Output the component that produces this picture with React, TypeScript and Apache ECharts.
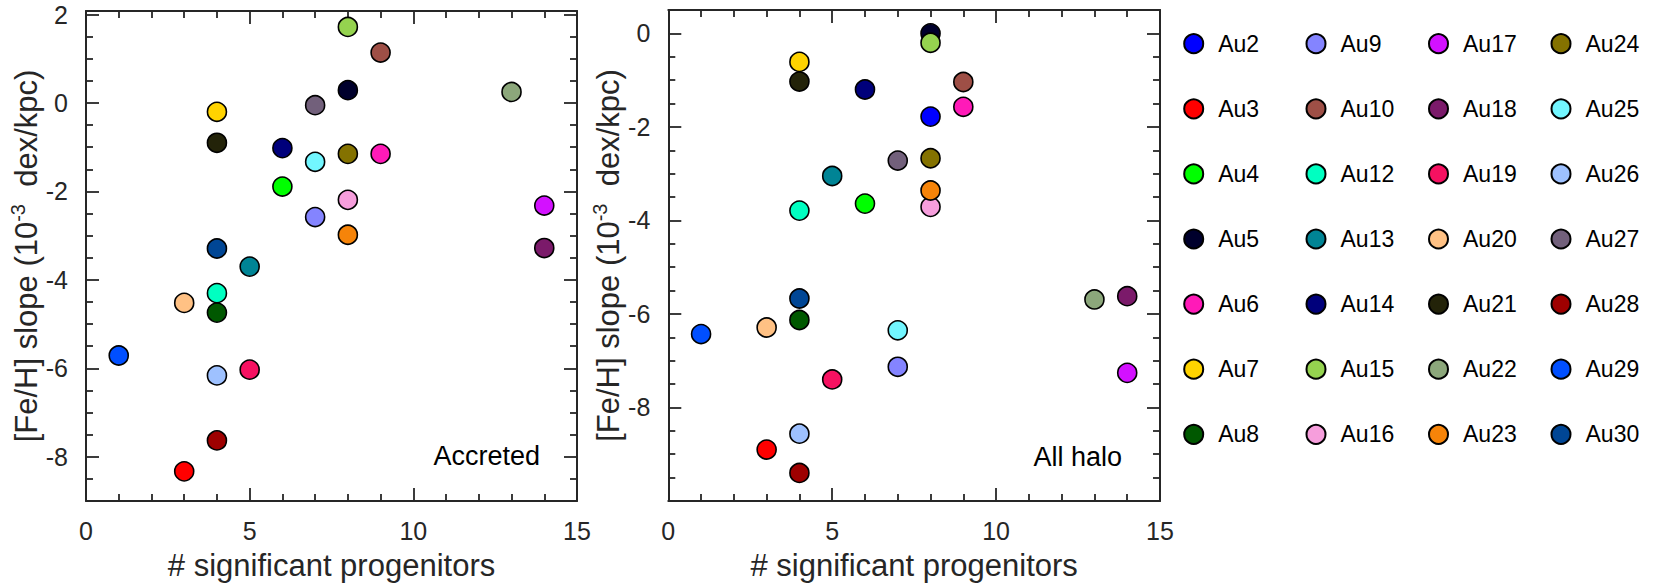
import React, { useEffect, useRef } from "react";
import * as echarts from "echarts";

// ---------- data ----------
const galaxies = [
  "Au2", "Au3", "Au4", "Au5", "Au6", "Au7", "Au8",
  "Au9", "Au10", "Au12", "Au13", "Au14", "Au15", "Au16",
  "Au17", "Au18", "Au19", "Au20", "Au21", "Au22", "Au23",
  "Au24", "Au25", "Au26", "Au27", "Au28", "Au29", "Au30",
];

const galaxyColors = [
  "#0000FF", "#FF0000", "#00FF00", "#00002C", "#FF1AB8", "#FFD300", "#005800",
  "#8484FF", "#9E4F46", "#00FFC1", "#008495", "#00007B", "#95D34F", "#F69EDC",
  "#D311FF", "#7B1A6A", "#F61161", "#FFC184", "#232309", "#8CA77B", "#F68409",
  "#847200", "#72F6FF", "#9EC1FF", "#72607B", "#9E0000", "#004FFF", "#004695",
];

// number of significant progenitors
const progenitors = [
  8, 3, 6, 8, 9, 4, 4,
  7, 9, 4, 5, 6, 8, 8,
  14, 14, 5, 3, 4, 13, 8,
  8, 7, 4, 7, 4, 1, 4,
];

// [Fe/H] slope (1e-3 dex/kpc), accreted stars
const slopeAccreted: (number | null)[] = [
  null, -8.33, -1.89, 0.29, -1.15, -0.2, -4.74,
  -2.58, 1.14, -4.3, -3.7, -1.02, 1.72, -2.19,
  -2.32, -3.28, -6.03, -4.52, -0.9, 0.25, -2.98,
  -1.15, -1.33, -6.16, -0.05, -7.63, -5.71, -3.29,
];

// [Fe/H] slope (1e-3 dex/kpc), all halo stars
const slopeAllHalo = [
  -1.78, -8.9, -3.64, 0.0, -1.57, -0.61, -6.13,
  -7.13, -1.04, -3.79, -3.05, -1.2, -0.2, -3.71,
  -7.26, -5.62, -7.4, -6.29, -1.03, -5.69, -3.36,
  -2.67, -6.35, -8.56, -2.72, -9.4, -6.43, -5.67,
];

const xTicks = [0, 5, 10, 15];
const accretedYTicks = [-8, -6, -4, -2, 0, 2];
const allHaloYTicks = [-8, -6, -4, -2, 0];
const panelLabels = ["Accreted", "All halo"];

// ---------- style ----------
const FONT = "'Liberation Sans', Arial, Helvetica, sans-serif";
const AXIS_COLOR = "#262626";

function minorTicks(min: number, max: number, step: number, majors: number[]) {
  const out: number[] = [];
  for (let k = Math.ceil(min / step); k * step <= max + 1e-9; k++) {
    const v = Math.round(k * step * 1000) / 1000;
    if (v <= min + 1e-9 || v >= max - 1e-9) continue;
    if (majors.some((m) => Math.abs(m - v) < 1e-9)) continue;
    out.push(v);
  }
  return out;
}

const lineStyle = { color: AXIS_COLOR, width: 2 };
const tickLine = { color: AXIS_COLOR, width: 1.8 };

function buildXAxes(gridIndex: number) {
  const base = { type: "value", gridIndex, min: 0, max: 15, splitLine: { show: false } };
  const minor = minorTicks(0, 15, 1, xTicks);
  const mk = (position: string, major: boolean, main: boolean) => ({
    ...base,
    position,
    axisLine: { show: major, onZero: false, lineStyle },
    axisTick: {
      show: true,
      inside: true,
      length: major ? 13 : 7,
      customValues: major ? xTicks : minor,
      lineStyle: tickLine,
    },
    axisLabel: main
      ? {
          show: true,
          customValues: xTicks,
          fontSize: 25,
          fontFamily: FONT,
          color: AXIS_COLOR,
          margin: 17,
        }
      : { show: false },
    ...(main
      ? {
          name: "# significant progenitors",
          nameLocation: "middle",
          nameGap: 49,
          nameTextStyle: { fontSize: 31, lineHeight: 31, fontFamily: FONT, color: AXIS_COLOR },
        }
      : {}),
  });
  return [mk("bottom", true, true), mk("bottom", false, false), mk("top", true, false), mk("top", false, false)];
}

function buildYAxes(gridIndex: number, min: number, max: number, majors: number[]) {
  const base = { type: "value", gridIndex, min, max, splitLine: { show: false } };
  const minor = minorTicks(min, max, 0.5, majors);
  const mk = (position: string, major: boolean, main: boolean) => ({
    ...base,
    position,
    axisLine: { show: major, onZero: false, lineStyle },
    axisTick: {
      show: true,
      inside: true,
      length: major ? 13 : 7,
      customValues: major ? majors : minor,
      lineStyle: tickLine,
    },
    axisLabel: main
      ? {
          show: true,
          customValues: majors,
          fontSize: 25,
          fontFamily: FONT,
          color: AXIS_COLOR,
          margin: 18,
          padding: [6, 0, 0, 0],
        }
      : { show: false },
    ...(main
      ? {
          name: "{m|[Fe/H] slope (10}{s|-3}{m|  dex/kpc)}",
          nameLocation: "middle",
          nameGap: 42,
          nameTextStyle: {
            fontFamily: FONT,
            color: AXIS_COLOR,
            rich: {
              m: { fontSize: 31, lineHeight: 36, fontFamily: FONT, color: AXIS_COLOR, verticalAlign: "middle" },
              s: { fontSize: 20, lineHeight: 20, fontFamily: FONT, color: AXIS_COLOR, verticalAlign: "top" },
            },
          },
        }
      : {}),
  });
  return [mk("left", true, true), mk("left", false, false), mk("right", true, false), mk("right", false, false)];
}

const legendLefts = [1183.2, 1305.5, 1428, 1550.5];

export default function App() {
  const ref = useRef<HTMLDivElement>(null);

  useEffect(() => {
    if (!ref.current) return;
    const chart = echarts.init(ref.current, null, { renderer: "svg" });

    const series: any[] = [];
    galaxies.forEach((name, i) => {
      const itemStyle = { color: galaxyColors[i], borderColor: "#000", borderWidth: 1.6, opacity: 1 };
      const acc = slopeAccreted[i];
      if (acc !== null) {
        series.push({
          type: "scatter",
          name,
          xAxisIndex: 0,
          yAxisIndex: 0,
          symbol: "circle",
          symbolSize: 19,
          itemStyle,
          data: [[progenitors[i], acc]],
        });
      }
      series.push({
        type: "scatter",
        name,
        xAxisIndex: 4,
        yAxisIndex: 4,
        symbol: "circle",
        symbolSize: 19,
        itemStyle,
        data: [[progenitors[i], slopeAllHalo[i]]],
      });
    });

    const option: any = {
      animation: false,
      backgroundColor: "#ffffff",
      grid: [
        { left: 86, top: 11, width: 491, height: 490.7 },
        { left: 668.3, top: 10, width: 491.7, height: 491 },
      ],
      xAxis: [...buildXAxes(0), ...buildXAxes(1)],
      yAxis: [
        ...buildYAxes(0, -9, 2.08, accretedYTicks),
        ...buildYAxes(1, -10, 0.5, allHaloYTicks),
      ],
      legend: [0, 1, 2, 3].map((c) => ({
        data: galaxies.slice(c * 7, c * 7 + 7),
        orient: "vertical",
        left: legendLefts[c],
        top: 32.2,
        padding: 0,
        itemGap: 42.1,
        itemWidth: 19,
        itemHeight: 19,
        icon: "circle",
        selectedMode: false,
        textStyle: { fontSize: 23, fontFamily: FONT, color: "#000", lineHeight: 19, padding: [0, 0, 0, 10] },
      })),
      graphic: [
        {
          type: "text",
          x: 540,
          y: 456,
          style: { text: panelLabels[0], fontSize: 27, fontFamily: FONT, fill: "#000", align: "right", verticalAlign: "middle" },
        },
        {
          type: "text",
          x: 1122,
          y: 457,
          style: { text: panelLabels[1], fontSize: 27, fontFamily: FONT, fill: "#000", align: "right", verticalAlign: "middle" },
        },
      ],
      series,
    };

    chart.setOption(option);
    return () => chart.dispose();
  }, []);

  return (
    <div
      ref={ref}
      style={{ position: "fixed", left: 0, top: 0, width: 1661, height: 586, background: "#fff" }}
    />
  );
}
